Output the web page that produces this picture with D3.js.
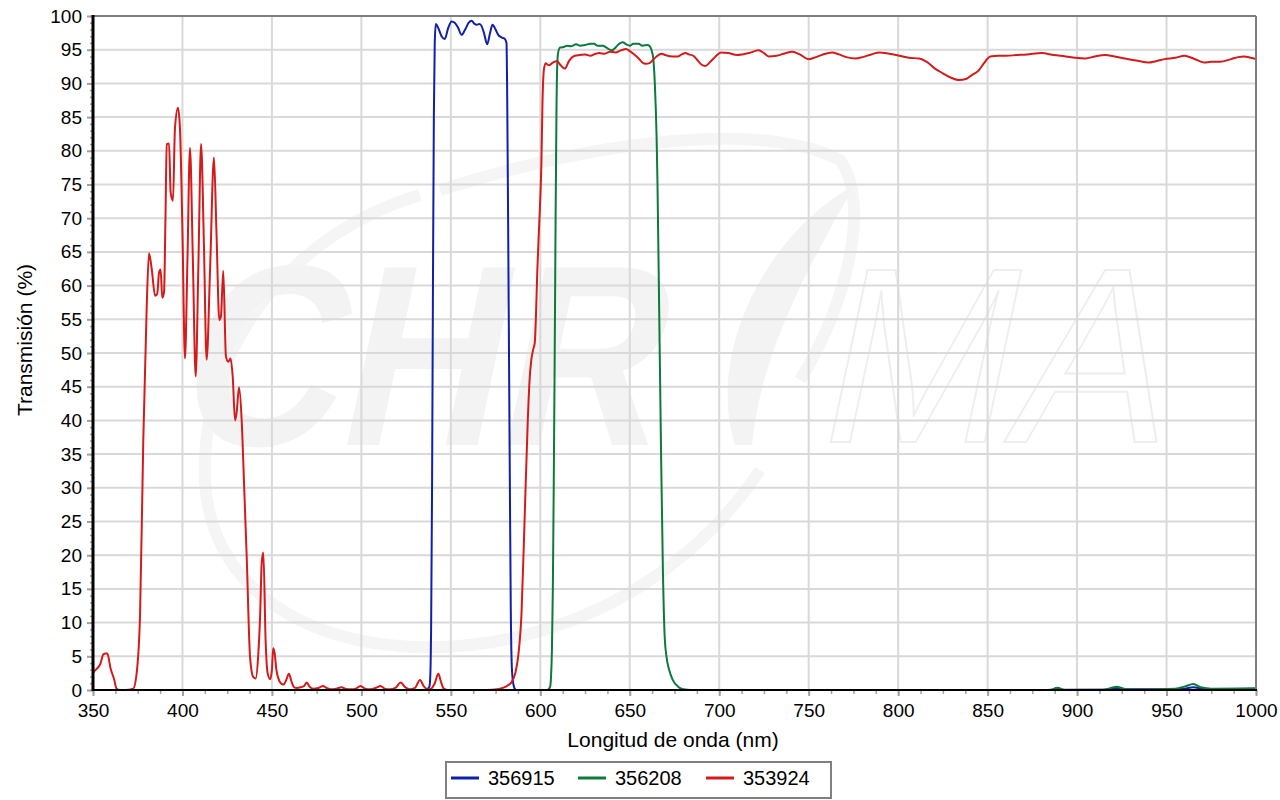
<!DOCTYPE html>
<html>
<head>
<meta charset="utf-8">
<script src="https://cdn.jsdelivr.net/npm/d3@7/dist/d3.min.js"></script>
<style>
  html, body { margin: 0; padding: 0; background: #ffffff; }
  svg { display: block; font-family: "Liberation Sans", Arial, sans-serif; }
</style>
</head>
<body>
<svg id="chart" width="1280" height="800"></svg>
<script>
// ---------------- DATA ----------------
const xTicks = [350,400,450,500,550,600,650,700,750,800,850,900,950,1000];
const yTicks = [0,5,10,15,20,25,30,35,40,45,50,55,60,65,70,75,80,85,90,95,100];
const seriesNames = ["356915","356208","353924"];
const seriesColors = ["#1020a8","#0b7a3e","#d41a1a"];
const xTitle = "Longitud de onda (nm)";
const yTitle = "Transmisión (%)";

// 356915 (blue)
const blueWl = [350,536,538,538.5,539,539.5,540,540.5,541,541.6,543,544.8,546.6,548.5,550.4,552.2,554,556,558,560,561.6,563,564.4,566,567.2,568.5,570.3,572,573.3,575,576.5,578.5,580.2,581.1,581.5,582,582.5,583,583.5,584,584.6,585.5,586.5,600,880,886,889,892,915,919,922,926,950,960,965,970,980,1000];
const blueT  = [0,0,0.5,2,10,30,60,85,96,98.8,98.2,97.0,96.6,98.2,99.2,99.0,98.3,97.2,98.0,99.0,99.3,98.9,98.7,98.8,98.5,97.5,95.8,97.6,98.7,98.0,97.2,96.8,96.6,96.0,88,70,50,30,12,4,1.5,0.3,0,0,0,0.05,0.3,0.05,0.05,0.2,0.3,0.1,0.1,0.2,0.4,0.2,0.15,0.2];

// 356208 (green)
const greenWl = [350,604,605.5,606,606.5,607,607.5,608,608.5,609,609.5,610,611,613,615,617,620,622,625,628,630,632,635,637,640,642,643,646,648,650,652,655,657,660,661.5,662.5,663,664,665,665.5,666.5,667.5,668.5,669.5,670.5,672,674,677,680,684,885,889,893,915,919,922,926,930,955,960,965,969,975,1000];
const greenT  = [0,0,0.5,2,6,15,30,48,68,85,93,94.6,95.3,95.4,95.6,95.5,95.8,95.6,95.7,95.9,95.9,95.6,95.6,95.3,94.9,95.3,95.6,96.1,95.8,95.6,95.9,95.9,95.6,95.7,95.4,94.6,94,90,82,75,55,35,18,8,5,3,1.5,0.5,0.1,0,0,0.35,0,0.05,0.3,0.5,0.2,0.05,0.2,0.5,0.9,0.4,0.2,0.25];

// 353924 (red)
const redWl = [350,351.1,353,354,355.8,357,358,359.9,361.7,363.2,365,368,372.5,374.4,376.3,378.1,380,381.3,382.8,384.7,385.9,386.9,387.8,388.7,389.7,390.5,391.2,392.5,393.4,394.7,395.8,397.5,398.6,400,401.4,402.8,404.2,405.8,407.4,408.9,410.4,412,413.5,415.5,417.6,419,420.6,421.5,422.8,424.3,425.6,426.9,428.1,429.4,430.3,431.6,433.1,434.5,435.9,437.8,439.6,440.9,442.4,443.4,444.3,445.2,446.5,447.6,449,450,450.7,451.5,452.5,453.5,455,456.5,458,459.5,461,462.5,464,466,468,469.5,471,473,476,478.5,480.5,483,486,489,491,494,497,499.5,502,505,508,510.7,513,516,519,522,524.5,527,530,532.7,535,537,539,541,543,544.5,546,548,560,570,576,579,582,584,586,587.6,589.5,591.3,593,594,595,596,596.9,597.5,598.3,599.2,600,600.6,601.2,602,603,604,605,607,609.4,611,613.7,616,619.3,622,625,628,631,633,636,639,642,645,648,650,652,655,657,659,661,663,665,667.7,670,674,676.8,679,681.2,683,685.6,688,690,692.3,695,698,701,705,710,713,716.6,722,725,727.6,732,736,740.9,745,749.8,753,758,763,767,771,776.3,780,785,789.6,795,800.7,806,811.7,816,820.6,825,830,833.8,838.3,841,844.9,848,851.5,856,860.4,866,872,880.3,887,893.6,899,904.6,910,915.7,921,926.8,933,940,944,948.9,955,960,965,971,975,979.9,986,990,993.2,997,1000];
const redT  = [2.5,2.9,3.4,3.8,5.3,5.4,5.4,3.1,1.7,0.2,0,0,0.2,2.5,11.2,37,56.7,64.8,62.5,58.5,58.8,61.9,62.4,58.2,59,70,81,81.1,73.8,72.6,83.3,86.4,83.3,68,49.2,64,80.4,64,46.5,63,81,66,49,63,79,68,54.9,55.4,62.2,49.5,48.7,49.2,46.4,40,41.2,44.9,40,30,19.8,4.8,1.9,1.7,5.4,11,18.9,20.4,7.1,2.5,1.6,3,6.2,5.5,3,1.8,1,0.8,1.5,2.4,1.2,0.4,0.3,0.4,0.6,1.1,0.5,0.2,0.3,0.6,0.3,0.1,0.2,0.4,0.2,0.1,0.2,0.6,0.2,0.1,0.3,0.6,0.2,0.1,0.3,1.1,0.4,0.1,0.3,1.5,0.5,0.1,0.2,1,2.4,1.2,0.2,0,0,0,0.1,0.3,0.7,1.2,2.5,4.9,11.4,26,40,46,49,50.5,51.5,55,62,68,73,78,87,92,93,92.8,92.7,93.1,93.3,92.8,92.2,93.3,94.1,94.2,94.3,94.1,94.4,94.5,94.4,94.7,94.6,94.9,95.1,94.8,94.4,93.7,93.1,92.9,93.0,93.5,94.0,94.4,94.2,94,94.0,94.3,94.5,94.3,94.1,93.4,92.8,92.6,93.2,94.0,94.6,94.5,94.2,94.3,94.5,94.9,94.5,94.0,94.1,94.4,94.7,94.3,93.6,93.8,94.3,94.6,94.3,93.9,93.7,93.9,94.3,94.6,94.4,94.1,93.8,93.7,93.2,92.2,91.5,90.8,90.5,90.7,91.2,91.9,93.0,94.0,94.1,94.1,94.2,94.3,94.5,94.2,94.0,93.8,93.7,94.0,94.2,94.0,93.7,93.4,93.1,93.3,93.6,93.8,94.1,93.7,93.1,93.2,93.2,93.6,93.9,94.0,93.8,93.6];

// ---------------- CHART ----------------
const svg = d3.select("#chart");
const L = 93, R = 1256, T = 16, B = 690;
const x = d3.scaleLinear().domain([350,1000]).range([L,R]);
const y = d3.scaleLinear().domain([0,100]).range([B,T]);

// watermark (very faint)
const wm = svg.append("g").attr("class","watermark");
wm.append("path")
  .attr("d", "M420,195 C300,230 200,340 205,480 C210,600 330,660 470,645 C600,630 700,560 760,470")
  .attr("fill", "none").attr("stroke", "#f5f5f5").attr("stroke-width", 12);
wm.append("path")
  .attr("d", "M440,190 C600,140 760,120 840,160 C870,200 850,300 800,380")
  .attr("fill", "none").attr("stroke", "#f5f5f5").attr("stroke-width", 12);
wm.append("text")
  .attr("transform", "translate(172,445) skewX(-12) scale(0.86,1)")
  .attr("font-size", 258).attr("font-weight", "bold")
  .attr("fill", "#f3f3f3").text("CHR");
wm.append("path")
  .attr("d", "M735,445 C705,350 770,230 855,185 C800,280 760,360 752,445 Z")
  .attr("fill", "#f3f3f3");
wm.append("text")
  .attr("transform", "translate(812,442) skewX(-12) scale(0.92,1)")
  .attr("font-size", 250)
  .attr("fill", "none").attr("stroke", "#eeeeee").attr("stroke-width", 2).text("MA");

// grid
const grid = svg.append("g");
grid.selectAll("line.h").data(yTicks.filter(v => v > 0 && v < 100)).join("line")
  .attr("x1", L).attr("x2", R).attr("y1", d => y(d)).attr("y2", d => y(d))
  .attr("stroke", "#d9d9d9").attr("stroke-width", 2);
grid.selectAll("line.v").data(xTicks.filter(v => v > 350 && v < 1000)).join("line")
  .attr("y1", T).attr("y2", B).attr("x1", d => x(d)).attr("x2", d => x(d))
  .attr("stroke", "#d9d9d9").attr("stroke-width", 2);

// minor ticks
const yMinor = d3.range(0, 101, 1);
const xMinor = d3.range(350, 1000.1, 12.5);
svg.append("g").attr("transform", `translate(${L},0)`)
  .call(d3.axisLeft(y).tickValues(yMinor).tickSize(3).tickFormat(""))
  .call(g => g.select(".domain").remove())
  .call(g => g.selectAll("line").attr("stroke", "#a0a0a0").attr("stroke-width", 1.5));
svg.append("g").attr("transform", `translate(0,${B})`)
  .call(d3.axisBottom(x).tickValues(xMinor).tickSize(4).tickFormat(""))
  .call(g => g.select(".domain").remove())
  .call(g => g.selectAll("line").attr("stroke", "#a0a0a0").attr("stroke-width", 1.5));

// major axes
svg.append("g").attr("transform", `translate(${L},0)`)
  .call(d3.axisLeft(y).tickValues(yTicks).tickSize(6).tickPadding(5).tickFormat(d3.format("d")))
  .call(g => g.select(".domain").remove())
  .call(g => g.selectAll("line").attr("stroke", "#a0a0a0").attr("stroke-width", 2))
  .call(g => g.selectAll("text").attr("font-size", 19).attr("fill", "#000")
      .attr("font-family", "'Liberation Sans', Arial, sans-serif"));
svg.append("g").attr("transform", `translate(0,${B})`)
  .call(d3.axisBottom(x).tickValues(xTicks).tickSize(6).tickPadding(7.5).tickFormat(d3.format("d")))
  .call(g => g.select(".domain").remove())
  .call(g => g.selectAll("line").attr("stroke", "#a0a0a0").attr("stroke-width", 2))
  .call(g => g.selectAll("text").attr("font-size", 19).attr("fill", "#000")
      .attr("font-family", "'Liberation Sans', Arial, sans-serif"));

// curves
svg.append("clipPath").attr("id","plotclip").append("rect")
  .attr("x", L).attr("y", T - 2).attr("width", R - L).attr("height", B - T + 3);
const line = d3.line().x(d => x(d[0])).y(d => y(d[1])).curve(d3.curveMonotoneX);
const series = [
  blueWl.map((w,i) => [w, blueT[i]]),
  greenWl.map((w,i) => [w, greenT[i]]),
  redWl.map((w,i) => [w, redT[i]])
];
svg.append("g").attr("clip-path", "url(#plotclip)")
  .selectAll("path").data(series).join("path")
  .attr("d", line).attr("fill", "none")
  .attr("stroke", (d,i) => seriesColors[i]).attr("stroke-width", 2)
  .attr("stroke-linejoin", "round");

// frame
svg.append("line").attr("x1", L).attr("x2", R).attr("y1", T).attr("y2", T)
  .attr("stroke", "#7f7f7f").attr("stroke-width", 2);
svg.append("line").attr("x1", R).attr("x2", R).attr("y1", T).attr("y2", B)
  .attr("stroke", "#7f7f7f").attr("stroke-width", 2);
svg.append("line").attr("x1", L - 1).attr("x2", R + 1).attr("y1", B).attr("y2", B)
  .attr("stroke", "#000").attr("stroke-width", 2);
svg.append("line").attr("x1", L).attr("x2", L).attr("y1", T - 1).attr("y2", B + 1)
  .attr("stroke", "#000").attr("stroke-width", 3);

// titles
svg.append("text").attr("x", 673).attr("y", 747).attr("text-anchor", "middle")
  .attr("font-size", 21).attr("fill", "#000").text(xTitle);
svg.append("text").attr("transform", "translate(32,340) rotate(-90)")
  .attr("text-anchor", "middle").attr("font-size", 21).attr("fill", "#000").text(yTitle);

// legend
const lg = svg.append("g");
lg.append("rect").attr("x", 446).attr("y", 762).attr("width", 385).attr("height", 36)
  .attr("fill", "#fff").attr("stroke", "#808080").attr("stroke-width", 2);
const lgX = [451, 578, 706];
const items = lg.selectAll("g.item").data(seriesNames).join("g")
  .attr("transform", (d,i) => `translate(${lgX[i]},0)`);
items.append("line").attr("x1", 0).attr("x2", 28).attr("y1", 778).attr("y2", 778)
  .attr("stroke", (d,i) => seriesColors[i]).attr("stroke-width", 3);
items.append("text").attr("x", 37).attr("y", 785).attr("font-size", 20)
  .attr("fill", "#000").text(d => d);
</script>
</body>
</html>
